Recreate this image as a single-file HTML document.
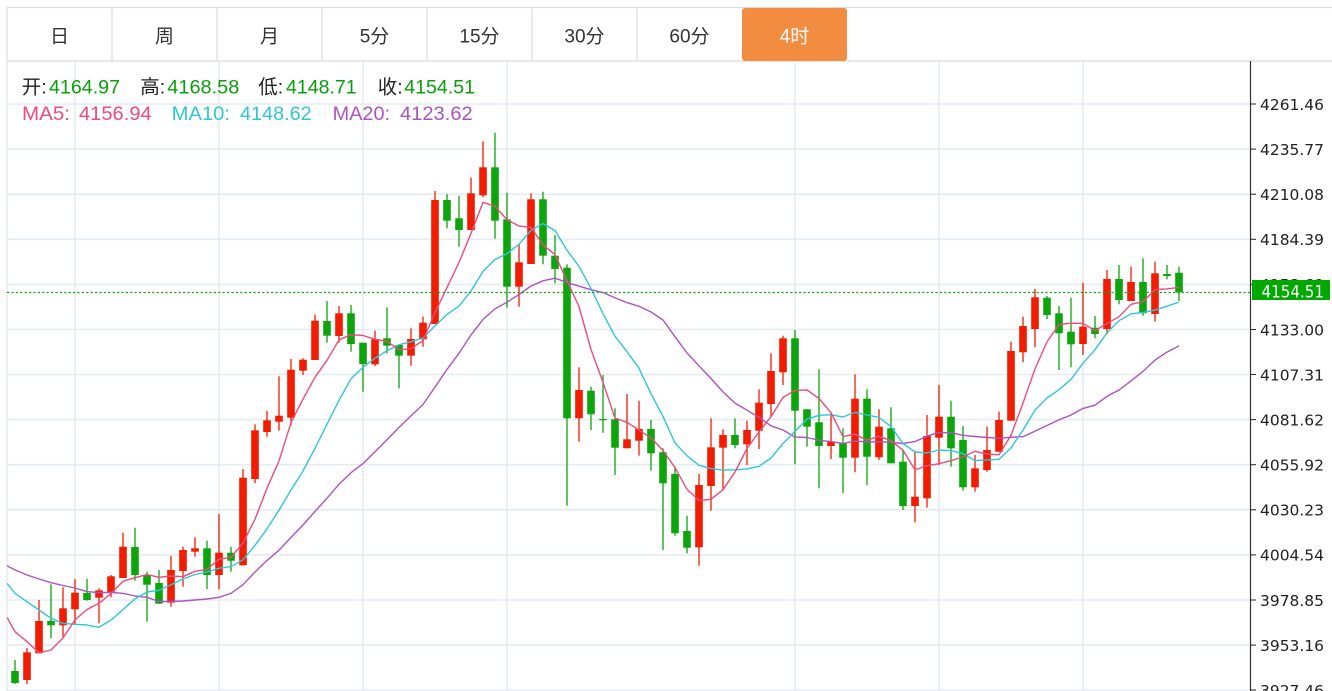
<!DOCTYPE html>
<html><head><meta charset="utf-8">
<style>
html,body{margin:0;padding:0;background:#fff;width:1332px;height:691px;overflow:hidden}
svg{display:block}
</style></head>
<body>
<svg id="s" width="1332" height="691" viewBox="0 0 1332 691" xmlns="http://www.w3.org/2000/svg" font-family="'Liberation Sans','Noto Sans CJK SC',sans-serif">
<defs><clipPath id="cp"><rect x="7" y="62" width="1243" height="629"/></clipPath></defs>
<rect x="0" y="0" width="1332" height="691" fill="#fff"/>
<!-- grid -->
<g stroke="#e4ecf2" stroke-width="1.6" fill="none">
<line x1="7" y1="104" x2="1250" y2="104"/>
<line x1="7" y1="149.1" x2="1250" y2="149.1"/>
<line x1="7" y1="194.2" x2="1250" y2="194.2"/>
<line x1="7" y1="239.3" x2="1250" y2="239.3"/>
<line x1="7" y1="284.4" x2="1250" y2="284.4"/>
<line x1="7" y1="329.5" x2="1250" y2="329.5"/>
<line x1="7" y1="374.5" x2="1250" y2="374.5"/>
<line x1="7" y1="419.6" x2="1250" y2="419.6"/>
<line x1="7" y1="464.7" x2="1250" y2="464.7"/>
<line x1="7" y1="509.8" x2="1250" y2="509.8"/>
<line x1="7" y1="554.9" x2="1250" y2="554.9"/>
<line x1="7" y1="600" x2="1250" y2="600"/>
<line x1="7" y1="645.1" x2="1250" y2="645.1"/>
<line x1="7" y1="690" x2="1250" y2="690"/>
<line x1="75" y1="62" x2="75" y2="691"/>
<line x1="219" y1="62" x2="219" y2="691"/>
<line x1="363" y1="62" x2="363" y2="691"/>
<line x1="507" y1="62" x2="507" y2="691"/>
<line x1="795" y1="62" x2="795" y2="691"/>
<line x1="939" y1="62" x2="939" y2="691"/>
<line x1="1083" y1="62" x2="1083" y2="691"/>
</g>
<line x1="7" y1="61" x2="7" y2="691" stroke="#dfe5ea" stroke-width="1.2"/>
<!-- tabs -->
<g>
<line x1="7" y1="7.5" x2="1332" y2="7.5" stroke="#dcdcdc" stroke-width="1.2"/>
<line x1="7" y1="61" x2="1332" y2="61" stroke="#dcdcdc" stroke-width="1.2"/>
<line x1="7" y1="7.5" x2="7" y2="61" stroke="#dcdcdc" stroke-width="1.2"/>
<g stroke="#dcdcdc" stroke-width="1.2">
<line x1="112" y1="7.5" x2="112" y2="61"/>
<line x1="217" y1="7.5" x2="217" y2="61"/>
<line x1="322" y1="7.5" x2="322" y2="61"/>
<line x1="427" y1="7.5" x2="427" y2="61"/>
<line x1="532" y1="7.5" x2="532" y2="61"/>
<line x1="637" y1="7.5" x2="637" y2="61"/>
</g>
<rect x="742" y="8" width="105" height="53" rx="3" fill="#f28c40"/>
<g font-size="19" fill="#333" text-anchor="middle">
<text x="59.5" y="42.5">日</text>
<text x="164.5" y="42.5">周</text>
<text x="269.5" y="42.5">月</text>
<text x="374.5" y="42.5">5分</text>
<text x="479.5" y="42.5">15分</text>
<text x="584.5" y="42.5">30分</text>
<text x="689.5" y="42.5">60分</text>
<text x="794.5" y="42.5" fill="#fff">4时</text>
</g>
</g>
<!-- candles & MAs -->
<g clip-path="url(#cp)">
<g id="cd"></g>
<g id="ma" fill="none" stroke-width="1.4" stroke-linejoin="round"></g>
<line x1="7" y1="292.5" x2="1250" y2="292.5" stroke="#18a018" stroke-width="1.3" stroke-dasharray="2.2,2.2"/>
</g>
<!-- info text -->
<g font-size="19.5">
<text x="21.7" y="93.5" fill="#222">开:</text>
<text x="49" y="93.5" fill="#0a9f0a" textLength="71" lengthAdjust="spacingAndGlyphs">4164.97</text>
<text x="140.3" y="93.5" fill="#222">高:</text>
<text x="167.3" y="93.5" fill="#0a9f0a" textLength="72" lengthAdjust="spacingAndGlyphs">4168.58</text>
<text x="258.3" y="93.5" fill="#222">低:</text>
<text x="286" y="93.5" fill="#0a9f0a" textLength="70.7" lengthAdjust="spacingAndGlyphs">4148.71</text>
<text x="377.7" y="93.5" fill="#222">收:</text>
<text x="404.3" y="93.5" fill="#0a9f0a" textLength="70.7" lengthAdjust="spacingAndGlyphs">4154.51</text>
<text x="22" y="120" fill="#ec4b7d" textLength="48" lengthAdjust="spacingAndGlyphs">MA5:</text>
<text x="79" y="120" fill="#ec4b7d" textLength="72.7" lengthAdjust="spacingAndGlyphs">4156.94</text>
<text x="171.7" y="120" fill="#2fc6da" textLength="58.3" lengthAdjust="spacingAndGlyphs">MA10:</text>
<text x="240" y="120" fill="#2fc6da" textLength="71.7" lengthAdjust="spacingAndGlyphs">4148.62</text>
<text x="332.7" y="120" fill="#ad52c2" textLength="57.3" lengthAdjust="spacingAndGlyphs">MA20:</text>
<text x="400" y="120" fill="#ad52c2" textLength="72.7" lengthAdjust="spacingAndGlyphs">4123.62</text>
</g>
<!-- right axis -->
<line x1="1250.5" y1="61" x2="1250.5" y2="691" stroke="#333" stroke-width="1.2"/>
<g stroke="#333" stroke-width="1.1">
<line x1="1250" y1="104" x2="1256" y2="104"/>
<line x1="1250" y1="149.1" x2="1256" y2="149.1"/>
<line x1="1250" y1="194.2" x2="1256" y2="194.2"/>
<line x1="1250" y1="239.3" x2="1256" y2="239.3"/>
<line x1="1250" y1="284.4" x2="1256" y2="284.4"/>
<line x1="1250" y1="329.5" x2="1256" y2="329.5"/>
<line x1="1250" y1="374.5" x2="1256" y2="374.5"/>
<line x1="1250" y1="419.6" x2="1256" y2="419.6"/>
<line x1="1250" y1="464.7" x2="1256" y2="464.7"/>
<line x1="1250" y1="509.8" x2="1256" y2="509.8"/>
<line x1="1250" y1="554.9" x2="1256" y2="554.9"/>
<line x1="1250" y1="600" x2="1256" y2="600"/>
<line x1="1250" y1="645.1" x2="1256" y2="645.1"/>
<line x1="1250" y1="690" x2="1256" y2="690"/>
</g>
<g font-family="'DejaVu Sans',sans-serif" font-size="15.5" fill="#222">
<text x="1260" y="109.8" textLength="64" lengthAdjust="spacingAndGlyphs">4261.46</text>
<text x="1260" y="154.9" textLength="64" lengthAdjust="spacingAndGlyphs">4235.77</text>
<text x="1260" y="200" textLength="64" lengthAdjust="spacingAndGlyphs">4210.08</text>
<text x="1260" y="245.1" textLength="64" lengthAdjust="spacingAndGlyphs">4184.39</text>
<text x="1260" y="290.2" textLength="64" lengthAdjust="spacingAndGlyphs">4158.69</text>
<text x="1260" y="335.3" textLength="64" lengthAdjust="spacingAndGlyphs">4133.00</text>
<text x="1260" y="380.3" textLength="64" lengthAdjust="spacingAndGlyphs">4107.31</text>
<text x="1260" y="425.4" textLength="64" lengthAdjust="spacingAndGlyphs">4081.62</text>
<text x="1260" y="470.5" textLength="64" lengthAdjust="spacingAndGlyphs">4055.92</text>
<text x="1260" y="515.6" textLength="64" lengthAdjust="spacingAndGlyphs">4030.23</text>
<text x="1260" y="560.7" textLength="64" lengthAdjust="spacingAndGlyphs">4004.54</text>
<text x="1260" y="605.8" textLength="64" lengthAdjust="spacingAndGlyphs">3978.85</text>
<text x="1260" y="650.9" textLength="64" lengthAdjust="spacingAndGlyphs">3953.16</text>
<text x="1260" y="695.8" textLength="64" lengthAdjust="spacingAndGlyphs">3927.46</text>
</g>
<rect x="1252" y="280" width="78" height="20" fill="#00a800"/>
<text x="1261.5" y="297.3" font-family="'DejaVu Sans',sans-serif" font-size="16.5" fill="#fff" textLength="62.5" lengthAdjust="spacingAndGlyphs">4154.51</text>
</svg>
<script>
(function(){
var D=[
[0,660,671,683,684],[1,648,652.3,680,684],[1,600,621,653.3,653.3],[0,584.3,621,625.3,638.3],
[1,587.3,608.3,625.3,636.7],[1,579,592.7,609.3,625],[0,579,593,600,600.7],[1,588.3,590.3,597.7,623.3],
[1,575,576.3,592.7,597.3],[1,532.7,546.7,578,578],[0,527.7,547,575,580.7],[0,571.7,575,584.7,621.7],
[0,570,583,603.7,603.7],[1,556,570,602.7,606.7],[1,546.7,550,571,586.7],[1,537.3,548.3,551.7,556.7],
[0,540.7,548.3,575,589],[1,514,552.7,575,589.3],[0,546.7,552.7,560.7,571.7],[1,469,477.7,565.3,565.3],
[1,424.3,430.3,479,483],[1,411,420.3,432,436.7],[1,376.3,415.7,421.7,430.7],[1,359,369.7,417.7,425],
[1,358.3,359.7,370.7,375],[1,314.7,320.7,360,360],[0,301,321,335.7,342.7],[1,306,313.3,336,342.7],
[0,305,313.3,344,351.7],[0,342.7,342.7,364,391.7],[1,330.7,339.3,364.3,366],[0,307.3,338.3,345.7,353.3],
[0,345,345,355.7,388.3],[1,328.3,339,355.7,365.7],[1,316.7,322.7,339.3,346.7],[1,191,200,324,324],
[0,194,200,220.7,228.3],[0,195.7,218.3,230,246.7],[1,177.7,193.3,230,230],[1,141.3,167.3,195.3,197.3],
[0,132.7,167.3,220.7,238.7],[0,192.7,219.3,286.7,307.7],[1,244.3,262.3,286.7,306.7],[1,193.3,199.3,264,264],
[0,191.7,199.3,255.7,264.3],[0,235,255.7,269,283.3],[0,264.3,267.7,418.3,505.7],[1,367.3,390,418.3,441.7],
[0,386.7,390.7,414.3,430],[0,375,419,420,432.7],[0,408.3,419.3,447.7,475],[1,394,439.3,448.3,448.3],
[1,400.7,429,440.7,455.7],[0,420,429,453.3,470.7],[0,448.3,452.3,483.3,550],[0,466.7,474,533.3,535.7],
[0,515.7,531,547.7,553.3],[1,474,485,547.3,565.7],[1,418.3,447.3,486,510.7],[1,429.3,435,447.7,490],
[0,418.3,435,445,448.3],[1,420.7,430,444.3,465],[1,389.3,402.7,430.7,449],[1,353.3,371,404,416.7],
[1,335.7,338.3,372.3,385],[0,330,338.3,410.7,464.3],[0,409.3,409.3,426.7,446.7],[0,369.3,422.3,446,488.3],
[1,412.7,441.7,446,459],[0,428.3,442.7,457.7,493.3],[1,374.3,398.7,457.7,472.3],[0,389.3,398.7,456.7,485],
[1,409.3,426.7,457.3,460],[0,407.3,428.3,463.3,463.3],[0,450,461.7,506,510],[1,451,496.7,506,522.3],
[1,415,436,498.3,507.7],[1,385,416.7,437.7,465],[0,400.7,416.7,448.3,466.7],[0,426,440,487.3,490.7],
[1,455,468.3,487.3,491.7],[1,426.7,450,470,471.7],[1,411.7,420,451.7,451.7],[1,341.7,351,420.7,420.7],
[1,316.7,326,352.3,362.3],[1,289,297.3,329,347.3],[0,296,297.7,315,319],[0,306,313.3,333.3,370],
[0,297.7,331.7,344.3,367.3],[1,282.7,326.7,344,355],[0,316,327.7,334,338.3],[1,270,279,329,334.3],
[0,265,279,300,304.3],[1,266.7,282,301,301],[0,258.3,282,313.3,315.7],[1,261.7,273.3,314,321.7],
[0,265,274,276,279.3],[0,266.7,272.7,292.3,301]
];
var h='';
for(var i=0;i<D.length;i++){
 var d=D[i],x=15+i*12,c=d[0]?'#f21c00':'#0ca50c';
 h+='<rect x="'+(x-0.65)+'" y="'+d[1]+'" width="1.3" height="'+(d[4]-d[1]).toFixed(2)+'" fill="'+c+'"/>';
 h+='<rect x="'+(x-3.8)+'" y="'+d[2]+'" width="7.6" height="'+Math.max(1.2,d[3]-d[2]).toFixed(2)+'" fill="'+c+'"/>';
}
document.getElementById('cd').innerHTML=h;
var cl=D.map(function(d){return d[0]?d[2]:d[3];});
function ma(n,pre){
 var pts=[[7,pre[0]]];
 for(var i=0;i<D.length;i++){
  var v;
  if(i<n-1){v=pre[i+1];}
  else{var s=0;for(var j=i-n+1;j<=i;j++)s+=cl[j];v=s/n;}
  pts.push([15+i*12,v]);
 }
 return pts.map(function(p){return p[0]+','+p[1].toFixed(1);}).join(' ');
}
var m='';
m+='<polyline stroke="#ad52c2" points="'+ma(20,[565.7,570,575,579,582.7,585.5,588,591.7,592.5,592.5,593.3,596,597.3,601.5,601.5,601,600,599,597.3,593.3])+'"/>';
m+='<polyline stroke="#2fc6da" points="'+ma(10,[583.3,593.3,601.7,610,618.3,623.3,624.3,625,627.3,620])+'"/>';
m+='<polyline stroke="#ec4b7d" points="'+ma(5,[617.3,631.7,641.7,652.7,650])+'"/>';
document.getElementById('ma').innerHTML=m;
})();
</script>
</body></html>
